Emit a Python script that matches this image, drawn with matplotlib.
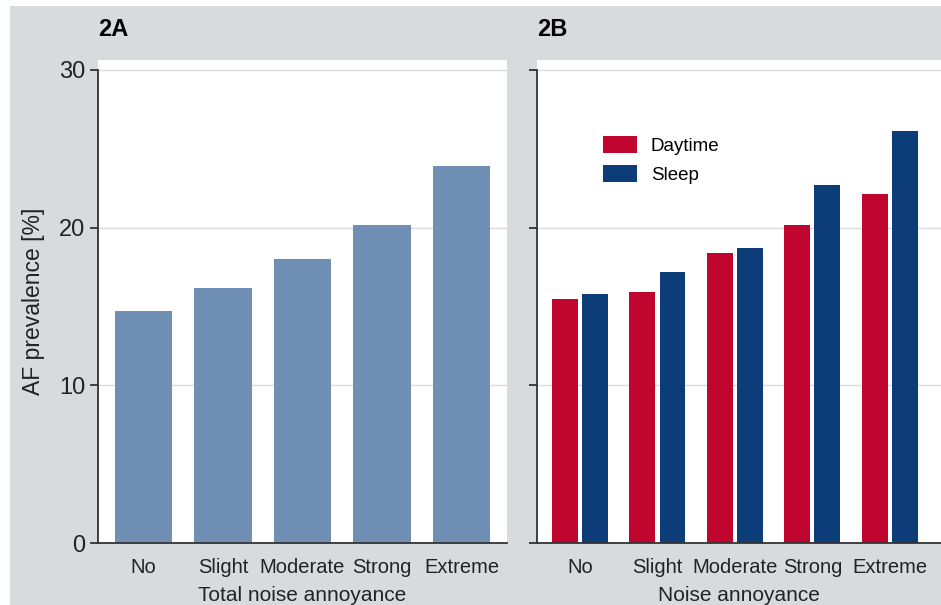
import matplotlib
matplotlib.use("Agg")
import matplotlib.pyplot as plt
import numpy as np
from matplotlib.patches import Rectangle

plt.rcParams["font.family"] = ["Liberation Sans Narrow", "Liberation Sans", "DejaVu Sans"]

levels_a = ["No", "Slight", "Moderate", "Strong", "Extreme"]
total_prev = [14.7, 16.2, 18.0, 20.15, 23.9]

levels_b = ["No", "Slight", "Moderate", "Strong", "Extreme"]
daytime_prev = [15.5, 15.9, 18.4, 20.15, 22.15]
sleep_prev = [15.8, 17.2, 18.7, 22.7, 26.1]

BG = "#d8dbdd"
TEXT = "#222222"
GRID = "#dcdcdc"
SPINE = "#333333"

fig = plt.figure(figsize=(9.41, 6.05), dpi=100)
fig.patch.set_facecolor("white")
# grey panel behind both charts
fig.patches.append(Rectangle((10 / 941, 0), 1, (605 - 6) / 605,
                             transform=fig.transFigure, facecolor=BG,
                             edgecolor="none", zorder=-10))

ax_a = fig.add_axes([98 / 941, 62 / 605, 409 / 941, 483 / 605])
ax_b = fig.add_axes([537 / 941, 62 / 605, 404 / 941, 483 / 605])


def style(ax):
    ax.set_facecolor("white")
    ax.set_ylim(0, 30.63)
    ax.set_yticks([0, 10, 20, 30])
    ax.yaxis.grid(True, color=GRID, linewidth=1.0)
    ax.set_axisbelow(True)
    for side in ("top", "right"):
        ax.spines[side].set_visible(False)
    ax.spines["left"].set_bounds(0, 30)
    for side in ("left", "bottom"):
        ax.spines[side].set_color(SPINE)
        ax.spines[side].set_linewidth(1.3)
    ax.tick_params(axis="y", length=6, width=1.3, color=SPINE,
                   labelsize=17, labelcolor=TEXT, pad=3)
    ax.tick_params(axis="x", length=0, labelsize=14.5, labelcolor=TEXT, pad=11)


# 2A
x = np.arange(len(levels_a))
ax_a.bar(x, total_prev, width=0.72, color="#6f8fb5")
style(ax_a)
ax_a.set_xlim(-0.57, 4.57)
ax_a.set_xticks(x, levels_a)
ax_a.set_ylabel("AF prevalence [%]", fontsize=16.5, color=TEXT, labelpad=10)
ax_a.set_xlabel("Total noise annoyance", fontsize=15, color=TEXT, labelpad=6)

# 2B
xb = np.arange(len(levels_b))
ax_b.bar(xb - 0.194, daytime_prev, width=0.335, color="#c0052e", label="Daytime")
ax_b.bar(xb + 0.194, sleep_prev, width=0.335, color="#0c3d79", label="Sleep")
style(ax_b)
ax_b.set_xlim(-0.555, 4.66)
ax_b.set_xticks(xb, levels_b)
ax_b.tick_params(axis="y", labelleft=False)
ax_b.set_xlabel("Noise annoyance", fontsize=15, color=TEXT, labelpad=6)
ax_b.legend(loc="upper left", bbox_to_anchor=(0.163, 0.842), frameon=False,
            fontsize=13.5, handlelength=1.8, handleheight=0.98, handletextpad=0.75,
            labelspacing=0.55, borderpad=0, borderaxespad=0)

fig.text(98 / 941, 1 - 30 / 605, "2A", fontsize=17, fontweight="bold",
         family=["Liberation Sans", "DejaVu Sans"], va="center", ha="left")
fig.text(537 / 941, 1 - 30 / 605, "2B", fontsize=17, fontweight="bold",
         family=["Liberation Sans", "DejaVu Sans"], va="center", ha="left")

fig.savefig("out.png", dpi=100, facecolor=fig.get_facecolor())
